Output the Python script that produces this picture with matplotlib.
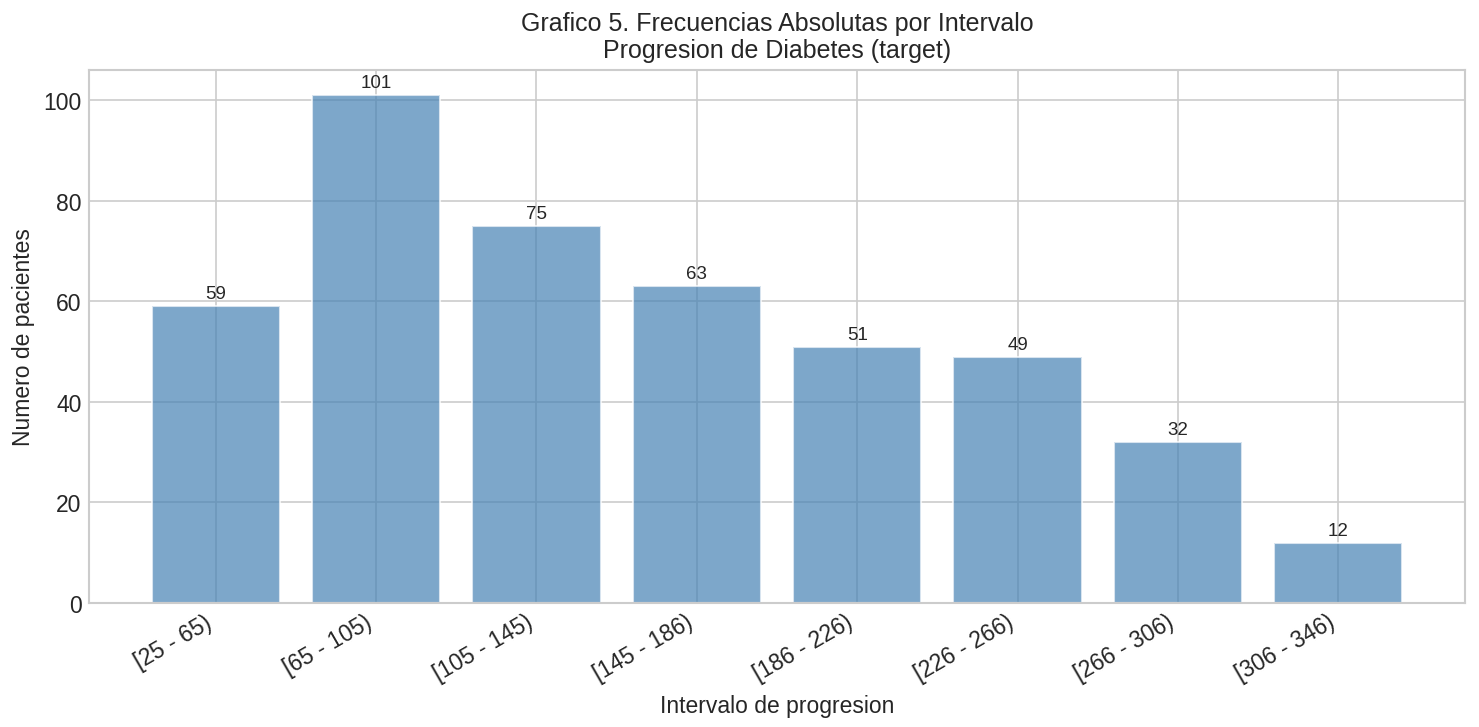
import matplotlib
matplotlib.use("Agg")
import matplotlib.pyplot as plt

plt.style.use("seaborn-v0_8-whitegrid")
plt.rcParams['font.family'] = ['Liberation Sans', 'DejaVu Sans']

labels = ["[25 - 65)", "[65 - 105)", "[105 - 145)", "[145 - 186)",
          "[186 - 226)", "[226 - 266)", "[266 - 306)", "[306 - 346)"]
counts = [59, 101, 75, 63, 51, 49, 32, 12]

fig, ax = plt.subplots(figsize=(9.86, 4.853), dpi=150)
x = list(range(len(labels)))
bars = ax.bar(x, counts, color="steelblue", alpha=0.7, edgecolor="white", width=0.8)
for b, v in zip(bars, counts):
    ax.text(b.get_x() + b.get_width() / 2, v + 0.8, str(v), ha="center", va="bottom", fontsize=9)
ax.set_xticks(x)
ax.set_xticklabels(labels, rotation=30, ha="right", fontsize=11)
ax.tick_params(axis='y', labelsize=11)
ax.set_xlabel("Intervalo de progresion", fontsize=11)
ax.set_ylabel("Numero de pacientes", fontsize=11)
ax.set_title("Grafico 5. Frecuencias Absolutas por Intervalo\nProgresion de Diabetes (target)", fontsize=12)
for s in ax.spines.values():
    s.set_visible(True)
    s.set_color("#cccccc")
fig.subplots_adjust(left=89/1479, right=1465/1479, top=1-71/728, bottom=1-604/728)
fig.savefig("out.png", dpi=150)
